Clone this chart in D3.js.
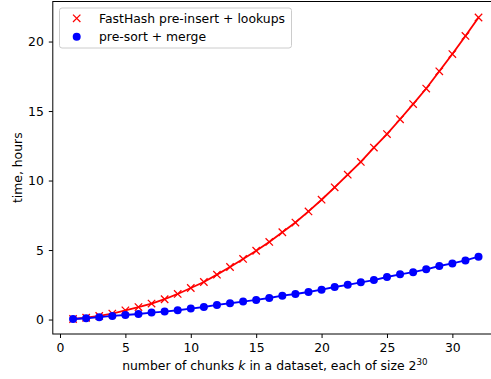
<!DOCTYPE html>
<html>
<head>
<meta charset="utf-8">
<script src="https://cdn.jsdelivr.net/npm/d3@7"></script>
<style>
  body { margin: 0; background: #fff; }
  svg { display: block; font-family: "DejaVu Sans", sans-serif; }
</style>
</head>
<body>
<svg id="chart" width="491" height="379"></svg>
<script>
// chunks k
const chunks = d3.range(1, 33);
// FastHash pre-insert + lookups, hours
const fastHash = [0.04, 0.13, 0.26, 0.43, 0.66, 0.90, 1.15, 1.46, 1.84, 2.27,
    2.70, 3.23, 3.78, 4.36, 4.95, 5.58, 6.28, 6.98, 7.78, 8.62,
    9.51, 10.42, 11.34, 12.37, 13.34, 14.41, 15.50, 16.62, 17.86, 19.10,
    20.40, 21.73];
// pre-sort + merge, hours
const preSort = [0.04, 0.09, 0.17, 0.26, 0.33, 0.40, 0.50, 0.57, 0.67, 0.79,
    0.90, 1.05, 1.17, 1.29, 1.41, 1.55, 1.72, 1.84, 1.98, 2.15,
    2.34, 2.50, 2.68, 2.84, 3.06, 3.25, 3.41, 3.61, 3.85, 4.04,
    4.25, 4.52];
const xTicks = [0, 5, 10, 15, 20, 25, 30];
const yTicks = [0, 5, 10, 15, 20];
const seriesNames = ["FastHash pre-insert + lookups", "pre-sort + merge"];

var svg = d3.select("#chart");
var plotL = 52.8, plotT = 1.5, plotR = 498.8, plotB = 334;
var fs = 12.4;

var x = d3.scaleLinear().domain([-0.55, 33.55]).range([plotL, plotR]);
var y = d3.scaleLinear().domain([-1.04, 22.88]).range([plotB, plotT]);

// frame (right side falls outside the figure)
svg.append("rect")
    .attr("x", plotL).attr("y", plotT)
    .attr("width", plotR - plotL).attr("height", plotB - plotT)
    .attr("fill", "none").attr("stroke", "#000").attr("stroke-width", 1);

var xAxis = svg.append("g")
    .attr("transform", `translate(0,${plotB})`)
    .call(d3.axisBottom(x).tickValues(xTicks).tickSize(4).tickPadding(5.5));
var yAxis = svg.append("g")
    .attr("transform", `translate(${plotL},0)`)
    .call(d3.axisLeft(y).tickValues(yTicks).tickSize(4).tickPadding(5));
[xAxis, yAxis].forEach(a => {
    a.select(".domain").remove();
    a.selectAll("text").attr("font-size", fs).attr("font-family", "DejaVu Sans").attr("fill", "#000");
    a.selectAll("line").attr("stroke", "#000").attr("stroke-width", 1);
});

// axis labels
var xl = svg.append("text")
    .attr("x", (plotL + plotR) / 2 - 1).attr("y", 370)
    .attr("text-anchor", "middle").attr("font-size", fs);
xl.append("tspan").text("number of chunks ");
xl.append("tspan").attr("font-style", "italic").text("k");
xl.append("tspan").text(" in a dataset, each of size 2");
xl.append("tspan").attr("font-size", fs * 0.7).attr("dy", -5).text("30");

svg.append("text")
    .attr("transform", "translate(21.7," + ((plotT + plotB) / 2) + ") rotate(-90)")
    .attr("text-anchor", "middle").attr("font-size", fs)
    .text("time, hours");

// lines
var line = (vals) => d3.line().x((d, i) => x(chunks[i])).y(d => y(d))(vals);
svg.append("path").attr("d", line(fastHash))
    .attr("fill", "none").attr("stroke", "#ff0000").attr("stroke-width", 1.85);
svg.append("path").attr("d", line(preSort))
    .attr("fill", "none").attr("stroke", "#0000ff").attr("stroke-width", 1.85);

// markers
var xMark = (g, cx, cy) => {
    var s = 3.7;
    g.append("path")
        .attr("d", `M${cx - s},${cy - s}L${cx + s},${cy + s}M${cx - s},${cy + s}L${cx + s},${cy - s}`)
        .attr("stroke", "#ff0000").attr("stroke-width", 1.25).attr("fill", "none");
};
var redG = svg.append("g");
fastHash.forEach((v, i) => xMark(redG, x(chunks[i]), y(v)));

svg.append("g").selectAll("circle")
    .data(preSort)
    .enter().append("circle")
    .attr("cx", (d, i) => x(chunks[i]))
    .attr("cy", d => y(d))
    .attr("r", 4)
    .attr("fill", "#0000ff");

// legend
var lg = svg.append("g");
lg.append("rect")
    .attr("x", 59.5).attr("y", 8).attr("width", 232).attr("height", 40)
    .attr("rx", 2.5).attr("fill", "#fff").attr("fill-opacity", 0.8)
    .attr("stroke", "#ccc").attr("stroke-width", 1);
xMark(lg, 76.7, 18.3);
lg.append("circle").attr("cx", 76.7).attr("cy", 36.7).attr("r", 4).attr("fill", "#0000ff");
seriesNames.forEach((n, i) => {
    lg.append("text")
        .attr("x", 99).attr("y", 18.3 + i * 18.4).attr("dy", "0.36em")
        .attr("font-size", fs).text(n);
});
</script>
</body>
</html>
